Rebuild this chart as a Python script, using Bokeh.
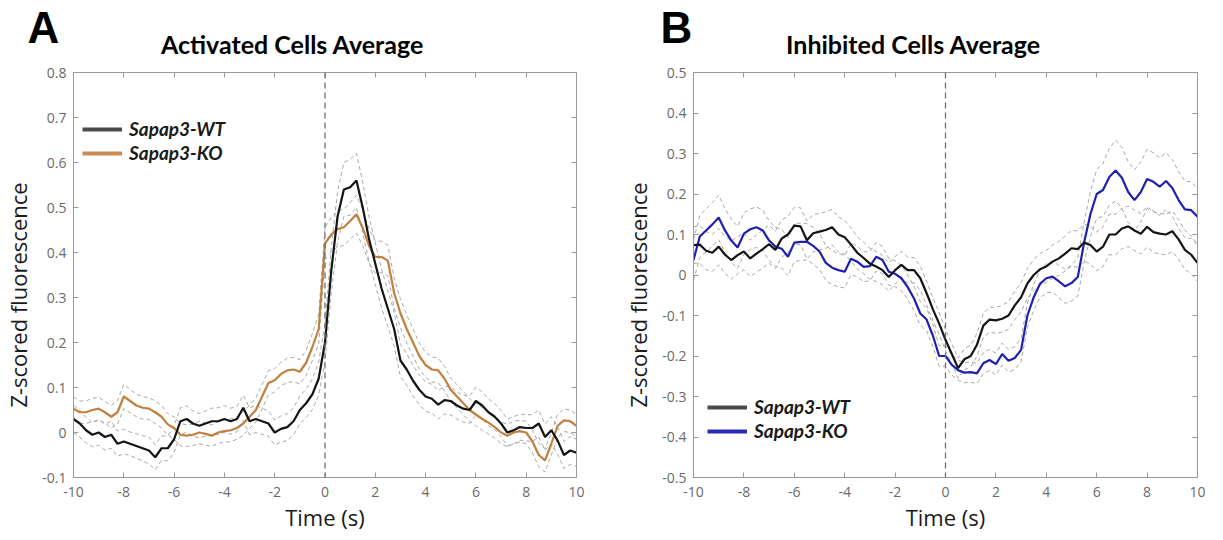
import numpy as np
from bokeh.plotting import figure
from bokeh.layouts import row, column
from bokeh.models import (Span, Label, LinearAxis, FixedTicker, CustomJSTickFormatter,
                          Range1d, Legend, LegendItem)
from bokeh.embed import file_html
from bokeh.resources import INLINE

# ---------------- data ----------------
time_s = [round(-10 + 0.25 * i, 2) for i in range(81)]
x_ticks = [-10, -8, -6, -4, -2, 0, 2, 4, 6, 8, 10]
y_ticks_a = [-0.1, 0.0, 0.1, 0.2, 0.3, 0.4, 0.5, 0.6, 0.7, 0.8]
y_ticks_b = [-0.5, -0.4, -0.3, -0.2, -0.1, 0.0, 0.1, 0.2, 0.3, 0.4, 0.5]
series_names = ["Sapap3-WT", "Sapap3-KO"]
panel_letters = ["A", "B"]
panel_titles = ["Activated Cells Average", "Inhibited Cells Average"]

# Panel A: activated cells
act_wt = [0.03, 0.02, 0.005, -0.005, 0.0, -0.01, -0.005, -0.025, -0.02, -0.025,
          -0.03, -0.035, -0.04, -0.055, -0.035, -0.035, -0.015, 0.025, 0.03, 0.02,
          0.015, 0.02, 0.025, 0.025, 0.03, 0.025, 0.03, 0.055, 0.025, 0.03,
          0.025, 0.02, 0.0, 0.008, 0.012, 0.025, 0.05, 0.065, 0.085, 0.12,
          0.2, 0.36, 0.48, 0.54, 0.545, 0.56, 0.5, 0.43, 0.375, 0.32,
          0.275, 0.23, 0.16, 0.14, 0.115, 0.095, 0.08, 0.075, 0.062, 0.072,
          0.07, 0.06, 0.053, 0.05, 0.07, 0.06, 0.045, 0.035, 0.02, 0.0,
          0.005, 0.012, 0.01, 0.01, 0.02, -0.01, 0.005, -0.018, -0.05, -0.04,
          -0.045]
act_wt_sem = [0.03, 0.03, 0.028, 0.027, 0.028, 0.029, 0.03, 0.028, 0.027, 0.026,
              0.027, 0.028, 0.03, 0.028, 0.027, 0.028, 0.03, 0.03, 0.029, 0.028,
              0.027, 0.028, 0.029, 0.03, 0.03, 0.029, 0.028, 0.028, 0.03, 0.03,
              0.029, 0.028, 0.028, 0.029, 0.03, 0.03, 0.031, 0.032, 0.034, 0.037,
              0.042, 0.05, 0.056, 0.06, 0.062, 0.06, 0.056, 0.05, 0.046, 0.043,
              0.04, 0.038, 0.036, 0.035, 0.034, 0.033, 0.033, 0.032, 0.032, 0.031,
              0.031, 0.03, 0.03, 0.03, 0.031, 0.03, 0.03, 0.029, 0.029, 0.03,
              0.03, 0.029, 0.029, 0.03, 0.03, 0.029, 0.03, 0.03, 0.03, 0.031,
              0.03]
act_ko = [0.053, 0.045, 0.045, 0.05, 0.053, 0.045, 0.035, 0.045, 0.08, 0.07,
          0.06, 0.055, 0.053, 0.045, 0.035, 0.018, 0.01, -0.005, -0.007, -0.005,
          0.0, -0.003, -0.007, 0.0, 0.003, 0.005, 0.01, 0.02, 0.035, 0.05,
          0.08, 0.11, 0.116, 0.13, 0.138, 0.14, 0.135, 0.155, 0.19, 0.23,
          0.42, 0.44, 0.452, 0.456, 0.47, 0.485, 0.455, 0.415, 0.39, 0.39,
          0.382, 0.31, 0.265, 0.23, 0.2, 0.17, 0.15, 0.14, 0.138, 0.12,
          0.095, 0.08, 0.065, 0.05, 0.04, 0.03, 0.022, 0.012, 0.0, -0.007,
          0.0, 0.003, 0.0, -0.02, -0.05, -0.062, -0.025, 0.015, 0.027, 0.025,
          0.015]
act_ko_sem = [0.026, 0.025, 0.025, 0.026, 0.025, 0.024, 0.025, 0.026, 0.027, 0.026,
              0.025, 0.025, 0.024, 0.025, 0.025, 0.024, 0.025, 0.025, 0.024, 0.024,
              0.025, 0.025, 0.024, 0.024, 0.025, 0.025, 0.025, 0.026, 0.026, 0.027,
              0.027, 0.027, 0.026, 0.026, 0.027, 0.027, 0.027, 0.028, 0.03, 0.033,
              0.036, 0.038, 0.04, 0.04, 0.041, 0.042, 0.04, 0.038, 0.036, 0.035,
              0.034, 0.033, 0.032, 0.031, 0.03, 0.029, 0.028, 0.028, 0.027, 0.027,
              0.026, 0.026, 0.026, 0.025, 0.025, 0.025, 0.025, 0.025, 0.024, 0.025,
              0.025, 0.024, 0.025, 0.025, 0.026, 0.026, 0.025, 0.025, 0.025, 0.025,
              0.025]

# Panel B: inhibited cells
inh_wt = [0.074, 0.075, 0.06, 0.055, 0.07, 0.05, 0.037, 0.049, 0.058, 0.041,
          0.053, 0.064, 0.076, 0.062, 0.09, 0.1, 0.122, 0.12, 0.086, 0.103,
          0.107, 0.111, 0.118, 0.1, 0.093, 0.075, 0.055, 0.042, 0.028, 0.021,
          0.012, -0.005, 0.012, 0.025, 0.012, 0.012, -0.008, -0.045, -0.085, -0.12,
          -0.16, -0.195, -0.23, -0.208, -0.2, -0.172, -0.125, -0.11, -0.112, -0.108,
          -0.1, -0.075, -0.055, -0.021, 0.0, 0.014, 0.021, 0.033, 0.041, 0.053,
          0.066, 0.064, 0.08, 0.074, 0.058, 0.07, 0.1, 0.1, 0.115, 0.12,
          0.11, 0.102, 0.119, 0.106, 0.102, 0.1, 0.108, 0.088, 0.062, 0.05,
          0.03]
inh_wt_sem = [0.045, 0.046, 0.047, 0.046, 0.045, 0.046, 0.047, 0.046, 0.045, 0.045,
              0.046, 0.047, 0.047, 0.046, 0.046, 0.045, 0.045, 0.046, 0.047, 0.046,
              0.045, 0.045, 0.044, 0.043, 0.042, 0.041, 0.04, 0.039, 0.038, 0.037,
              0.036, 0.035, 0.034, 0.033, 0.032, 0.031, 0.03, 0.029, 0.028, 0.027,
              0.026, 0.025, 0.025, 0.026, 0.027, 0.028, 0.03, 0.031, 0.032, 0.033,
              0.034, 0.035, 0.036, 0.037, 0.038, 0.039, 0.04, 0.041, 0.042, 0.043,
              0.044, 0.045, 0.046, 0.047, 0.048, 0.049, 0.05, 0.05, 0.05, 0.05,
              0.05, 0.05, 0.05, 0.05, 0.05, 0.05, 0.05, 0.049, 0.048, 0.047,
              0.046]
inh_ko = [0.037, 0.095, 0.11, 0.125, 0.142, 0.11, 0.085, 0.068, 0.102, 0.113,
          0.118, 0.11, 0.085, 0.07, 0.065, 0.045, 0.08, 0.082, 0.082, 0.072,
          0.058, 0.03, 0.018, 0.012, 0.008, 0.04, 0.033, 0.02, 0.022, 0.045,
          0.037, 0.008, 0.003, -0.008, -0.03, -0.058, -0.095, -0.11, -0.15, -0.2,
          -0.2, -0.222, -0.235, -0.241, -0.24, -0.243, -0.218, -0.21, -0.22, -0.195,
          -0.212, -0.205, -0.185, -0.1, -0.055, -0.022, -0.008, -0.004, -0.016, -0.028,
          -0.02, -0.005, 0.08, 0.15, 0.2, 0.21, 0.242, 0.258, 0.24, 0.205,
          0.185, 0.205, 0.237, 0.23, 0.218, 0.232, 0.215, 0.185, 0.162, 0.16,
          0.144]
inh_ko_sem = [0.05, 0.052, 0.053, 0.054, 0.055, 0.054, 0.053, 0.052, 0.051, 0.05,
              0.05, 0.05, 0.049, 0.048, 0.048, 0.047, 0.047, 0.046, 0.045, 0.045,
              0.044, 0.043, 0.042, 0.041, 0.04, 0.039, 0.038, 0.037, 0.036, 0.035,
              0.034, 0.033, 0.032, 0.031, 0.03, 0.03, 0.029, 0.028, 0.027, 0.026,
              0.025, 0.025, 0.025, 0.025, 0.025, 0.025, 0.026, 0.026, 0.027, 0.027,
              0.028, 0.028, 0.029, 0.03, 0.032, 0.034, 0.036, 0.038, 0.04, 0.042,
              0.044, 0.047, 0.05, 0.055, 0.06, 0.065, 0.07, 0.075, 0.075, 0.075,
              0.075, 0.074, 0.073, 0.072, 0.071, 0.07, 0.07, 0.07, 0.07, 0.07,
              0.07]

# ---------------- styling ----------------
TICK_FONT = "Open Sans"
LABEL_FONT = "Open Sans"
TITLE_FONT = "Lato"
AXIS_COLOR = "#9a9a9a"
TICK_LABEL_COLOR = "#6a6a6a"
SEM_COLOR = "#a8a8a8"
WT_COLOR = "#141414"
Y_LABEL = "Z-scored fluorescence" + "\u00a0" * 7   # trailing pad nudges label lower

fmt_code = "var s = tick.toFixed(1); return s.replace(/\\.0$/, '');"


def make_panel(width, bl, br, y_lo, y_hi, y_ticks,
               wt, wt_sem, ko, ko_sem, ko_color, ko_key_color, legend_loc):
    p = figure(width=width, height=477, x_range=Range1d(-10, 10), y_range=Range1d(y_lo, y_hi),
               output_backend="svg", toolbar_location=None,
               min_border_left=bl, min_border_right=br, min_border_top=12, min_border_bottom=60)
    p.xgrid.visible = False
    p.ygrid.visible = False
    p.outline_line_color = AXIS_COLOR
    p.outline_line_width = 1

    fmt = CustomJSTickFormatter(code=fmt_code)
    for ax, ticks in ((p.xaxis[0], x_ticks), (p.yaxis[0], y_ticks)):
        ax.ticker = FixedTicker(ticks=ticks)
        ax.formatter = fmt
        ax.axis_line_color = AXIS_COLOR
        ax.major_tick_line_color = AXIS_COLOR
        ax.major_tick_in = 5
        ax.major_tick_out = 0
        ax.minor_tick_line_color = None
        ax.major_label_text_font = TICK_FONT
        ax.major_label_text_font_size = "14px"
        ax.major_label_text_color = TICK_LABEL_COLOR
        ax.axis_label_text_font = LABEL_FONT
        ax.axis_label_text_font_size = "22px"
        ax.axis_label_text_font_style = "normal"
        ax.axis_label_text_color = "#1a1a1a"
    p.xaxis[0].major_label_standoff = 9
    p.yaxis[0].major_label_standoff = 7
    p.xaxis[0].axis_label = "Time (s)"
    p.yaxis[0].axis_label = Y_LABEL
    p.xaxis[0].axis_label_standoff = 2
    p.yaxis[0].axis_label_standoff = 6

    # box-style ticks on the top and right edges (no labels)
    for loc, ticks in (("above", x_ticks), ("right", y_ticks)):
        ax = LinearAxis(ticker=FixedTicker(ticks=ticks), major_label_text_font_size="1px",
                        major_label_text_color=None,
                        major_label_standoff=0, major_tick_in=5, major_tick_out=0,
                        minor_tick_line_color=None, axis_line_color=AXIS_COLOR,
                        major_tick_line_color=AXIS_COLOR)
        p.add_layout(ax, loc)

    p.add_layout(Span(location=0, dimension="height", line_color="#707070",
                      line_dash="6 4", line_width=1.3))

    t = np.array(time_s)
    for m, s in ((wt, wt_sem), (ko, ko_sem)):
        m = np.array(m)
        s = np.array(s)
        p.line(t, m + s, line_color=SEM_COLOR, line_dash="4 3", line_width=1)
        p.line(t, m - s, line_color=SEM_COLOR, line_dash="4 3", line_width=1)

    p.line(t, ko, line_color=ko_color, line_width=2.2)
    p.line(t, wt, line_color=WT_COLOR, line_width=2.2)

    # legend keys (thick lines, no visible data)
    blank = np.full(len(time_s), np.nan)
    key_wt = p.line(t, blank, line_color="#4a4a4a", line_width=4)
    key_ko = p.line(t, blank, line_color=ko_key_color, line_width=4)
    leg = Legend(items=[LegendItem(label=series_names[0], renderers=[key_wt]),
                        LegendItem(label=series_names[1], renderers=[key_ko])],
                 location=legend_loc, border_line_color=None, background_fill_alpha=0,
                 padding=0, margin=0, spacing=1, glyph_width=40, glyph_height=20,
                 label_height=20, label_standoff=7,
                 label_text_font=TITLE_FONT, label_text_font_size="19px",
                 label_text_font_style="bold italic", label_text_color="#1a1a1a")
    p.add_layout(leg)
    return p


pa = make_panel(620, 63, 44, -0.1, 0.8, y_ticks_a,
                act_wt, act_wt_sem, act_ko, act_ko_sem, "#C0803F", "#C98A55", (9, 313))
pb = make_panel(585, 68, 8, -0.5, 0.5, y_ticks_b,
                inh_wt, inh_wt_sem, inh_ko, inh_ko_sem, "#2020B0", "#2a2ab8", (14, 35))

# header strip holding panel letters and titles (pixel-like coordinates, y down)
header = figure(width=1205, height=60, x_range=Range1d(0, 1205), y_range=Range1d(60, 0),
                title=None, output_backend="svg", toolbar_location=None,
                x_axis_type=None, y_axis_type=None,
                min_border=0, min_border_left=0, min_border_right=0, min_border_top=0,
                min_border_bottom=0)
header.outline_line_color = None
header.xgrid.visible = False
header.ygrid.visible = False
for letter, lx in zip(panel_letters, (43, 676)):
    header.add_layout(Label(x=lx, y=27, text=letter, text_font="Liberation Sans",
                            text_font_size="44px", text_font_style="bold", text_color="black",
                            text_align="center", text_baseline="middle"))
for title, tx in zip(panel_titles, (292, 913)):
    header.add_layout(Label(x=tx, y=43, text=title, text_font=TITLE_FONT,
                            text_font_size="25px", text_font_style="bold", text_color="black",
                            text_align="center", text_baseline="middle"))

layout = column(header, row(pa, pb))
open("out.html", "w").write(file_html(layout, INLINE))
